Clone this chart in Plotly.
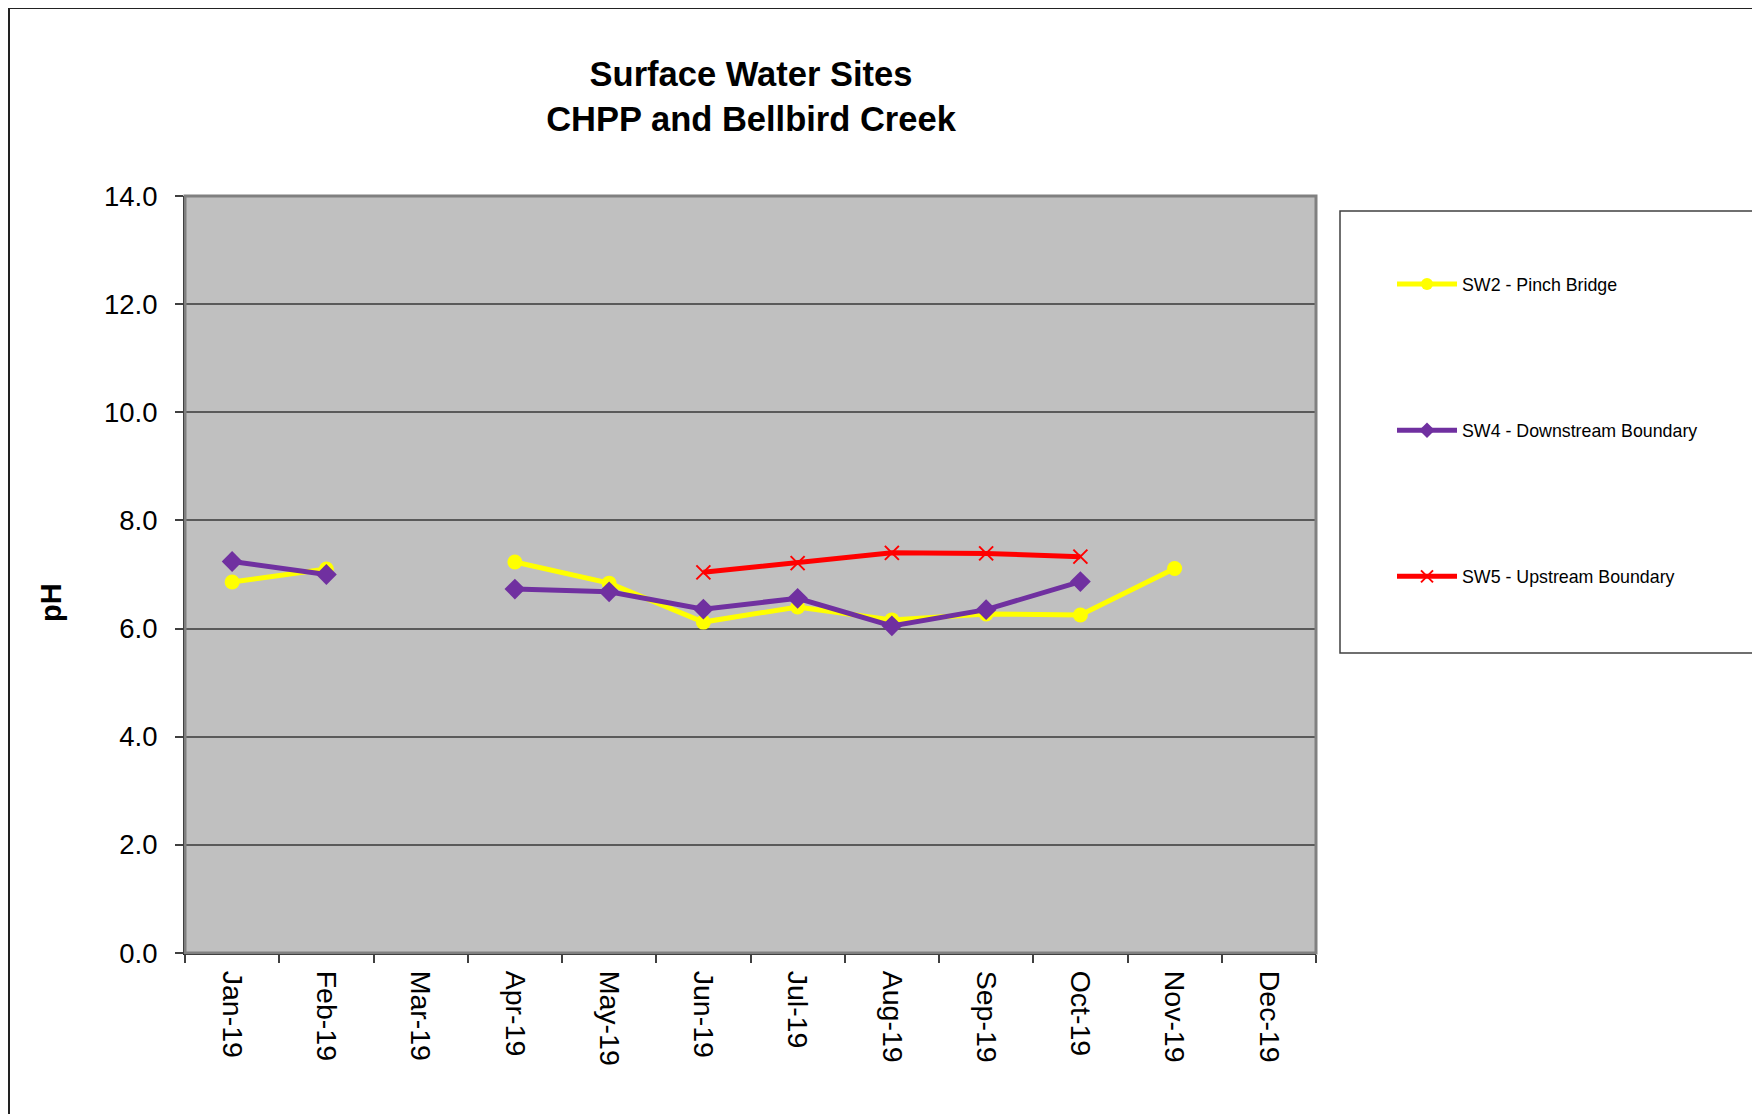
import plotly.graph_objects as go

months = ["Jan-19", "Feb-19", "Mar-19", "Apr-19", "May-19", "Jun-19",
          "Jul-19", "Aug-19", "Sep-19", "Oct-19", "Nov-19", "Dec-19"]
sw2 = [6.86, 7.10, None, 7.23, 6.84, 6.12, 6.40, 6.16, 6.27, 6.25, 7.11, None]
sw4 = [7.24, 7.00, None, 6.73, 6.68, 6.36, 6.56, 6.05, 6.35, 6.87, None, None]
sw5 = [None, None, None, None, None, 7.04, 7.21, 7.40, 7.39, 7.33, None, None]
y_ticks = [0, 2, 4, 6, 8, 10, 12, 14]

W, H = 1760, 1114
OFF = 8  # page body margin
L, R, T, B = 185 - OFF, 1316 - OFF, 196 - OFF, 953 - OFF
FONT = "Arial, Liberation Sans, sans-serif"


def px(xp):
    return (xp - OFF - L) / (R - L)


def py(yp):
    return (B - (yp - OFF)) / (B - T)


fig = go.Figure()
fig.add_trace(go.Scatter(
    x=months, y=sw2, name="SW2 - Pinch Bridge", mode="lines+markers",
    line=dict(color="#FFFF00", width=5), legendgroup="a",
    marker=dict(symbol="circle", size=15, color="#FFFF00"),
    connectgaps=False))
fig.add_trace(go.Scatter(
    x=months, y=sw4, name="SW4 - Downstream Boundary", mode="lines+markers",
    line=dict(color="#7030A0", width=5), legendgroup="b",
    marker=dict(symbol="diamond", size=16, color="#7030A0"),
    connectgaps=False))
fig.add_trace(go.Scatter(
    x=months, y=sw5, name="SW5 - Upstream Boundary", mode="lines+markers",
    line=dict(color="#FF0000", width=5), legendgroup="c",
    marker=dict(symbol="x-thin-open", size=14, color="#FF0000",
                line=dict(color="#FF0000", width=2)),
    connectgaps=False))

shapes = [
    # outer chart border
    dict(type="rect", xref="paper", yref="paper",
         x0=px(9), x1=px(1790), y0=py(1140), y1=py(8),
         line=dict(color="#222222", width=2), layer="below"),
    # plot border (gray top/right)
    dict(type="rect", xref="paper", yref="paper",
         x0=0, x1=1, y0=0, y1=1,
         line=dict(color="#808080", width=3), layer="above"),
    # legend box
    dict(type="rect", xref="paper", yref="paper",
         x0=px(1340), x1=px(1754), y0=py(653), y1=py(211),
         line=dict(color="#404040", width=1.5), layer="below"),
]

annotations = [
    dict(text="<b>pH</b>", xref="paper", yref="paper",
         x=px(51), y=py(603), xanchor="center", yanchor="middle",
         textangle=-90, showarrow=False,
         font=dict(size=29, family=FONT, color="black")),
]

fig.update_layout(
    width=W, height=H,
    margin=dict(l=L, r=W - R, t=T, b=H - B, autoexpand=False),
    paper_bgcolor="white",
    plot_bgcolor="#C0C0C0",
    font=dict(family=FONT, color="black"),
    title=dict(text="<b>Surface Water Sites<br>CHPP and Bellbird Creek</b>",
               x=px(751), xref="paper", xanchor="center",
               y=1 - 78 / H, yref="container", yanchor="top",
               font=dict(size=34.5, family=FONT, color="black")),
    shapes=shapes,
    annotations=annotations,
    showlegend=True,
    legend=dict(x=px(1392), y=py(266), xanchor="left", yanchor="top",
                xref="paper", yref="paper",
                bgcolor="rgba(0,0,0,0)", borderwidth=0,
                font=dict(size=17.8, family=FONT, color="black"),
                traceorder="grouped", tracegroupgap=120,
                itemwidth=60, itemsizing="constant"),
)

fig.update_xaxes(
    type="category", range=[-0.5, 11.5],
    tickangle=90, tickfont=dict(size=28.5, family=FONT, color="black"),
    ticks="outside", ticklen=8, tickcolor="#404040", tickwidth=1.5,
    tickson="boundaries", ticklabelstandoff=10,
    showline=True, linecolor="black", linewidth=2,
    showgrid=False, zeroline=False, fixedrange=True,
)
fig.update_yaxes(
    range=[0, 14], tickvals=y_ticks, tickformat=".1f",
    tickfont=dict(size=27.5, family=FONT, color="black"),
    ticks="outside", ticklen=8, tickcolor="#404040", tickwidth=1.5,
    ticklabelstandoff=12,
    showline=True, linecolor="black", linewidth=2,
    showgrid=True, gridcolor="#5a5a5a", gridwidth=1.5,
    zeroline=False, fixedrange=True,
)

fig.write_html("out.html")
